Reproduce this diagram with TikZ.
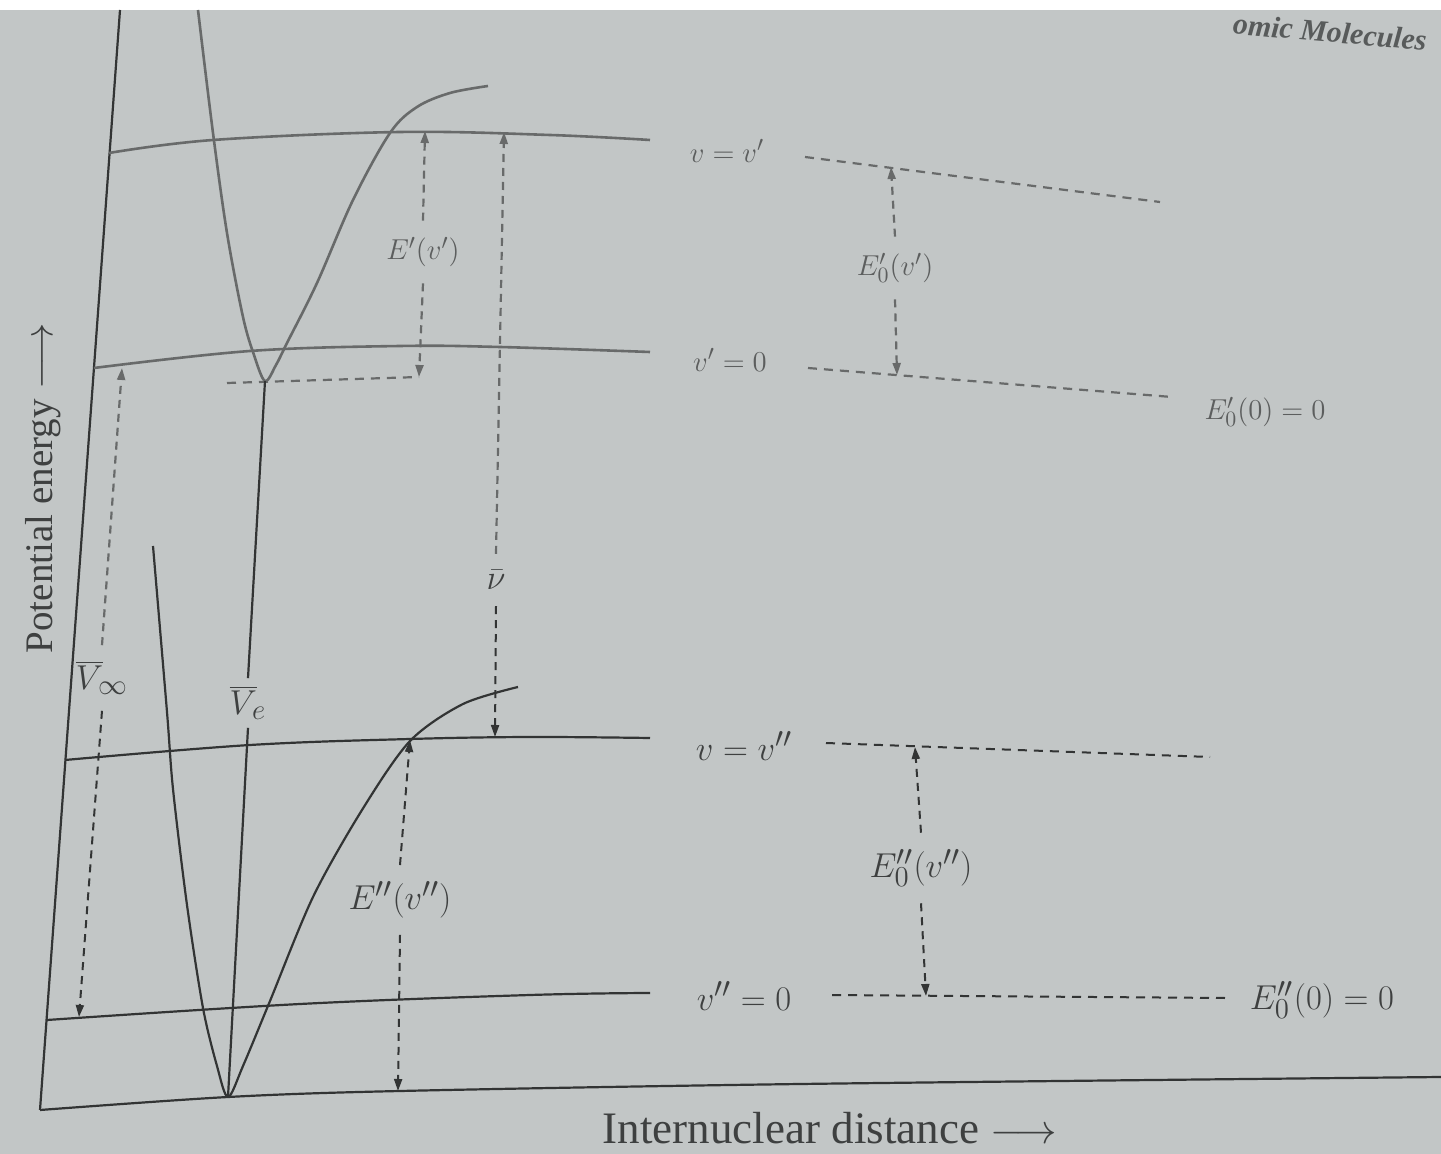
\documentclass[tikz,border=0pt]{standalone}
\usepackage{fontspec}
\setmainfont{Liberation Serif}
\usetikzlibrary{arrows.meta}
\definecolor{paper}{RGB}{194,198,198}
\definecolor{inkA}{RGB}{104,106,106}
\definecolor{inkB}{RGB}{50,52,52}
\definecolor{txtA}{RGB}{92,94,94}
\definecolor{txtB}{RGB}{62,64,64}
\begin{document}
\begin{tikzpicture}[x=0.5pt,y=-0.5pt,
  curveA/.style={draw=inkA, line width=1.3pt, line join=round},
  curveB/.style={draw=inkB, line width=1.1pt, line join=round},
  extA/.style={draw=inkA, line width=1.1pt, dash pattern=on 4.5pt off 3.5pt},
  extB/.style={draw=inkB, line width=1.0pt, dash pattern=on 4.5pt off 3.5pt},
  dimA/.style={draw=inkA, line width=1.1pt, dash pattern=on 4pt off 3pt, -{Triangle[length=6pt,width=4pt]}},
  dimB/.style={draw=inkB, line width=1.0pt, dash pattern=on 4pt off 3pt, -{Triangle[length=6pt,width=4pt]}},
  labA/.style={text=txtA, font=\fontsize{15.5}{18}\selectfont, inner sep=2pt},
  labB/.style={text=txtB, font=\fontsize{19}{22}\selectfont, inner sep=2pt},
  gaplab/.style={inner ysep=8pt}
]
\useasboundingbox (0,0) rectangle (1441,1154);
\fill[paper] (0,0) rectangle (1441,1154);
\fill[white] (0,0) rectangle (1441,10);

% page header (cut off)
\node[text=txtB!80!paper, font=\fontsize{15}{18}\selectfont\bfseries\itshape, rotate=-5, inner sep=1pt] (hdr) at (1330,32) {omic Molecules};

% axes
\coordinate (Otop) at (120,10);
\coordinate (O) at (40,1110);
\coordinate (Xend) at (1441,1077);
\draw[curveB] (Otop) -- (O);
\draw[curveB] plot[smooth, tension=0.5] coordinates {(40,1110) (228,1097) (400,1091) (800,1084) (1441,1077)};

% upper potential curve
\coordinate (Umin) at (265,381);
\draw[curveA] plot[smooth, tension=0.55] coordinates {(198,10) (213,133) (227,233) (243,317) (254,355) (265,381) (276,365) (287,343) (317,283) (353,200) (390,133) (417,107) (450,93) (488,86)};

% lower potential curve
\coordinate (Lmin) at (228,1097);
\draw[curveB] plot[smooth, tension=0.5] coordinates {(153,546) (167,712) (173,789) (187,905) (203,1008) (217,1066) (228,1097) (243,1066) (270,1001) (313,897) (362,810) (410,741) (463,704) (518,687)};

% vibrational levels (solid)
\draw[curveA] plot[smooth, tension=0.6] coordinates {(109,153) (213,140) (400,132) (550,135) (650,140)};
\draw[curveA] plot[smooth, tension=0.6] coordinates {(94,368) (250,351) (400,346) (500,347) (650,352)};
\draw[curveB] plot[smooth, tension=0.6] coordinates {(65,760) (250,745) (410,739) (530,737) (650,738)};
\draw[curveB] plot[smooth, tension=0.6] coordinates {(47,1020) (300,1004) (530,995) (650,993)};

% level labels
\node[labA] (L1) at (727,151) {$v = v'$};
\node[labA] (L2) at (730,360) {$v' = 0$};
\node[labB] (L3) at (744,746) {$v = v''$};
\node[labB] (L4) at (744,996) {$v'' = 0$};
\node[labA] (R2) at (1265,412) {$E'_0(0) = 0$};
\node[labB] (R4) at (1322,1000) {$E''_0(0) = 0$};

% dashed extensions
\coordinate (D1s) at (805,157); \coordinate (D1e) at (1160,202);
\coordinate (D2s) at (808,368); \coordinate (D2e) at (1172,397);
\coordinate (D3s) at (826,743); \coordinate (D3e) at (1210,757);
\coordinate (D4s) at (832,995); \coordinate (D4e) at (1225,998);
\draw[extA] (D1s) -- (D1e);
\draw[extA] (D2s) -- (D2e);
\draw[extB] (D3s) -- (D3e);
\draw[extB] (D4s) -- (D4e);

% dashed line from upper minimum
\coordinate (Hs) at (227,383);
\coordinate (EpBot) at (419,377);
\draw[extA] (Hs) -- (EpBot);

% V_e line
\node[labB, inner ysep=4pt] (Velab) at (248,703) {$\overline{V}_{\!e}$};
\draw[curveB] (Umin) -- (Velab.north);
\draw[curveB] (Velab.south) -- (Lmin);

% E'(v')
\coordinate (EpTop) at (425,131);
\node[labA, gaplab] (Eplab) at (423,252) {$E'(v')$};
\draw[dimA] (Eplab.north) -- (EpTop);
\draw[dimA] (Eplab.south) -- (EpBot);

% nu bar
\coordinate (NuTop) at (504,132);
\coordinate (NuBot) at (495,737);
\node[labB, gaplab] (nulab) at (496,580) {$\bar{\nu}$};
\draw[dimA] (nulab.north) -- (NuTop);
\draw[dimB] (nulab.south) -- (NuBot);

% E''(v'')
\coordinate (EppTop) at (410,740);
\coordinate (EppBot) at (398,1091);
\node[labB, gaplab] (Epplab) at (400,900) {$E''(v'')$};
\draw[dimB] (Epplab.north) -- (EppTop);
\draw[dimB] (Epplab.south) -- (EppBot);

% V_infinity
\coordinate (VTop) at (122,368);
\coordinate (VBot) at (79,1017);
\node[labB, gaplab] (Vinflab) at (102,678) {$\overline{V}_{\!\infty}$};
\draw[dimA] (Vinflab.north) -- (VTop);
\draw[dimB] (Vinflab.south) -- (VBot);

% E'_0(v')
\coordinate (E0pTop) at (891,167);
\coordinate (E0pBot) at (897,375);
\node[labA, gaplab] (E0plab) at (895,268) {$E'_0(v')$};
\draw[dimA] (E0plab.north) -- (E0pTop);
\draw[dimA] (E0plab.south) -- (E0pBot);

% E''_0(v'')
\coordinate (E0ppTop) at (915,747);
\coordinate (E0ppBot) at (926,996);
\node[labB, gaplab] (E0pplab) at (921,868) {$E''_0(v'')$};
\draw[dimB] (E0pplab.north) -- (E0ppTop);
\draw[dimB] (E0pplab.south) -- (E0ppBot);

% axis labels
\node[rotate=90, text=txtB, font=\fontsize{19.5}{22}\selectfont, inner sep=0pt] (ylab) at (43,488) {Potential energy $\longrightarrow$};
\node[text=txtB, font=\fontsize{22.5}{25}\selectfont, inner sep=0pt] (xlab) at (830,1128) {Internuclear distance $\longrightarrow$};
\end{tikzpicture}
\end{document}
